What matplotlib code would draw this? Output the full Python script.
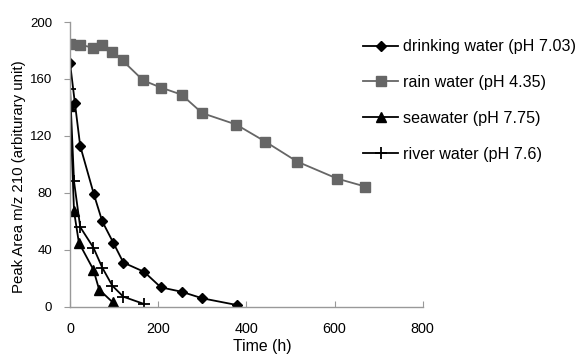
import matplotlib
matplotlib.use("Agg")
import matplotlib.pyplot as plt

plt.rcParams["font.family"] = ["Liberation Sans", "DejaVu Sans"]

# decay of m/z 210 peak area over time in different waters
drink_t = [0, 11, 23, 54, 73, 98, 121, 168, 206, 253, 300, 378]
drink_v = [171, 143, 113, 79, 60, 45, 31, 24.5, 13.6, 10.5, 5.9, 1.2]

rain_t = [0, 23, 53, 72, 96, 119, 166, 206, 253, 300, 377, 443, 515, 606, 670]
rain_v = [184.6, 184, 182, 184, 179, 173, 159, 154, 149, 136, 128, 116, 102, 90, 84.4]

sea_t = [0, 9, 20, 53, 66, 97]
sea_v = [141, 67, 45, 26, 12, 3]

river_t = [0, 9, 23, 53, 73, 96, 121, 168]
river_v = [152.7, 88, 56, 41.5, 27.5, 14.7, 7, 1.9]

labels = ["drinking water (pH 7.03)", "rain water (pH 4.35)",
          "seawater (pH 7.75)", "river water (pH 7.6)"]

fig = plt.figure(figsize=(5.79, 3.56), dpi=100)
ax = fig.add_axes([0.121, 0.1385, 0.609, 0.7995])

ax.plot(drink_t, drink_v, color="black", lw=1.3, marker="D", ms=5, label=labels[0])
ax.plot(rain_t, rain_v, color="#666666", lw=1.3, marker="s", ms=7, label=labels[1])
ax.plot(sea_t, sea_v, color="black", lw=1.3, marker="^", ms=6.5, label=labels[2])
ax.plot(river_t, river_v, color="black", lw=1.3, marker="+", ms=9, mew=1.3,
        label=labels[3])

ax.set_xlim(0, 800)
ax.set_ylim(0, 200)
ax.set_xticks(range(0, 801, 200))
ax.set_yticks(range(0, 201, 40))
for s in ("top", "right"):
    ax.spines[s].set_visible(False)
for s in ("left", "bottom"):
    ax.spines[s].set_color("#999999")
    ax.spines[s].set_linewidth(1.0)
ax.tick_params(axis="x", direction="in", length=4, color="#999999",
               labelsize=10.4, pad=11)
ax.tick_params(axis="y", direction="out", length=4, color="#999999",
               labelsize=9.5, pad=9)
ax.set_xlabel("Time (h)", fontsize=11.4)
ax.set_ylabel("Peak Area m/z 210 (arbiturary unit)", fontsize=10.8)
ax.xaxis.set_label_coords(0.544, -0.115)
ax.yaxis.set_label_coords(-0.125, 0.456)

fig.legend(loc="upper left", bbox_to_anchor=(0.627, 0.89), frameon=False,
           fontsize=11.6, handlelength=2.2, handletextpad=0.25,
           labelspacing=1.3, borderpad=0, borderaxespad=0)

fig.savefig("out.png", dpi=100)
